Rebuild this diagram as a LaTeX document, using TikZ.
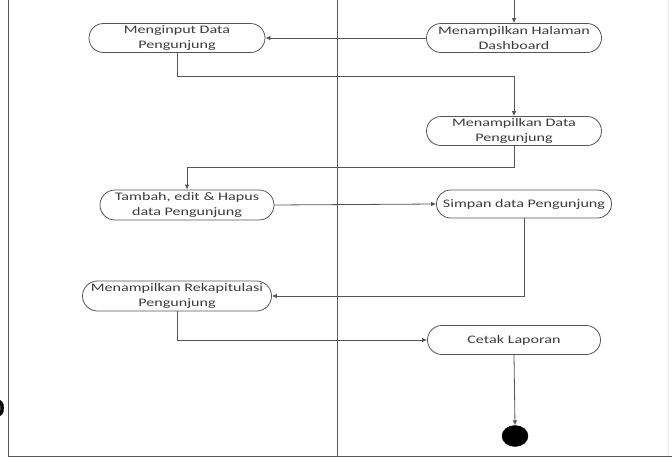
\documentclass[tikz,border=0pt]{standalone}
\usepackage{fontspec}
\newfontfamily\actfont[FakeStretch=1.4]{Carlito}
\usetikzlibrary{shapes.misc,shapes.geometric,arrows.meta}
\definecolor{linecol}{HTML}{555555}
\definecolor{textcol}{HTML}{3A3A3A}
\begin{document}
\begin{tikzpicture}[x=1pt,y=-1pt,
  act/.style={rounded rectangle, draw=linecol, line width=0.8pt, align=center,
    inner xsep=2pt, inner ysep=1pt, text=textcol,
    font=\actfont\fontsize{11.5}{14.5}\selectfont},
  flow/.style={draw=linecol, line width=0.8pt, -{Latex[length=5pt,width=4.5pt]}},
  frame/.style={draw=gray!70!black, line width=1pt}]
\useasboundingbox (0,0) rectangle (672,458);
% frame lines
\draw[frame] (8,0) -- (8,456) -- (672,456);
\draw[frame] (337,0) -- (337,456);
\draw[draw=gray!15, line width=0.8pt] (668,0) -- (668,456);
% cut-off letter at left edge
\node[anchor=east, font=\sffamily\bfseries\fontsize{26}{26}\selectfont, inner sep=0pt] (cut) at (6,408) {D};
% nodes
\node[act, minimum width=180pt, minimum height=29pt] (n1) at (177,38) {Menginput Data\\Pengunjung};
\node[act, minimum width=179pt, minimum height=29pt] (n2) at (514,38) {Menampilkan Halaman\\Dashboard};
\node[act, minimum width=179pt, minimum height=29pt] (n3) at (514,131) {Menampilkan Data\\Pengunjung};
\node[act, minimum width=178pt, minimum height=30pt] (n4) at (187,205) {Tambah, edit \& Hapus\\data Pengunjung};
\node[act, minimum width=179pt, minimum height=28pt] (n5) at (524,204) {Simpan data Pengunjung};
\node[act, minimum width=193pt, minimum height=30pt] (n6) at (177,296) {Menampilkan Rekapitulasi\\Pengunjung};
\node[act, minimum width=177pt, minimum height=29pt] (n7) at (514,340) {Cetak Laporan};
\node[ellipse, fill=black, draw=black, minimum width=26pt, minimum height=21pt, inner sep=0pt] (fin) at (515,436) {};
% junctions
\coordinate (top) at (514,0);
\coordinate (j1) at (0,76);
\coordinate (j2) at (0,167);
% connectors
\draw[flow] (top) -- (n2.north);
\draw[flow] (n2.west) -- (n1.east);
\draw[flow] (n1.south) -- (n1.south |- j1) -| (n3.north);
\draw[flow] (n3.south) -- (n3.south |- j2) -| (n4.north);
\draw[flow] (n4.east) -- (n5.west);
\draw[flow] (n5.south) |- (n6.east);
\draw[flow] (n6.south) |- (n7.west);
\draw[flow] (n7.south) -- (fin.north);
\end{tikzpicture}
\end{document}
